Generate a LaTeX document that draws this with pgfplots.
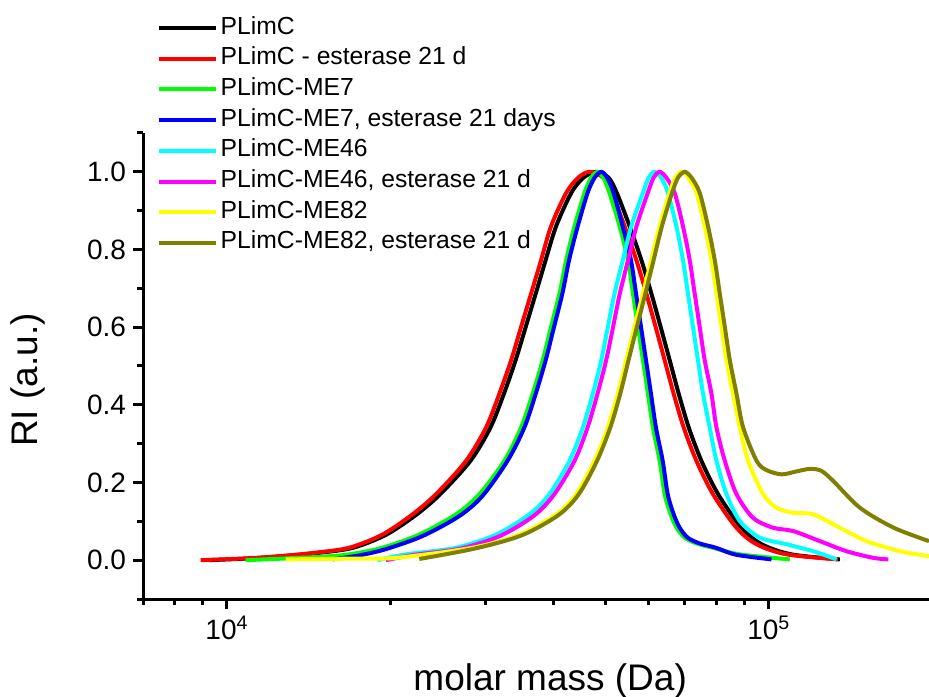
\documentclass[border=0pt]{standalone}
\usepackage{pgfplots}
\pgfplotsset{compat=1.18}
\usepackage{fontspec}
\setmainfont{Liberation Sans}
\definecolor{cRed}{RGB}{255,0,0}
\definecolor{cGreen}{RGB}{0,255,0}
\definecolor{cBlue}{RGB}{0,0,255}
\definecolor{cCyan}{RGB}{0,255,255}
\definecolor{cMag}{RGB}{255,0,255}
\definecolor{cYel}{RGB}{255,255,0}
\definecolor{cOlive}{RGB}{128,128,0}
\begin{document}
\begin{tikzpicture}
\begin{axis}[
  scale only axis, width=393bp, height=233bp,
  xmode=log, xmin=7000, xmax=197600, ymin=-0.1, ymax=1.1,
  axis x line*=bottom, axis y line*=left,
  axis line style={line width=1.5bp,-},
  tick style={black, line width=1.5bp},
  tick align=outside, major tick length=5bp, minor tick length=3bp,
  xtick={10000,100000}, xticklabels={10\textsuperscript{4},10\textsuperscript{5}},
  minor xtick={7000,8000,9000,20000,30000,40000,50000,60000,70000,80000,90000},
  ytick={0,0.2,0.4,0.6,0.8,1.0}, yticklabels={0.0,0.2,0.4,0.6,0.8,1.0},
  minor ytick={-0.1,0.1,0.3,0.5,0.7,0.9,1.1},
  tick label style={font=\fontsize{14bp}{16bp}\selectfont},
  label style={font=\fontsize{18.5bp}{22bp}\selectfont},
  xlabel={molar mass (Da)}, ylabel={RI (a.u.)},
  xlabel style={at={(axis description cs:0.518,0)}, anchor=center, yshift=-41bp},
  ylabel style={at={([xshift=-57.75bp]axis description cs:0,0.47)}, anchor=center},
  legend cell align=left,
  legend style={at={(axis description cs:0,1)}, anchor=north west, xshift=6.85bp, yshift=58.45bp,
    draw=none, fill=none, inner sep=0pt, outer sep=0pt, row sep=3.35bp, column sep=1.5bp,
    font=\fontsize{12.35bp}{14bp}\selectfont,
    nodes={inner sep=0pt, text height=9bp, text depth=3bp}},
  legend image code/.code={\draw[#1] (0bp,0bp) -- (28.5bp,0bp);},
  every axis plot/.append style={line width=2bp, smooth, tension=0.5},
]
\addplot[black] coordinates {
(9262,0.000) (11200,0.005) (12900,0.011) (14800,0.019) (17100,0.032) (19700,0.066)
(22400,0.118) (24750,0.170) (28150,0.256) (30650,0.342) (32450,0.429) (34100,0.515)
(35600,0.601) (37150,0.687) (38750,0.773) (40500,0.860) (43200,0.946) (45500,0.985)
(48030,1.000) (50600,0.985) (52400,0.946) (55350,0.860) (58180,0.773) (60700,0.687)
(63140,0.601) (65630,0.515) (68180,0.429) (71150,0.342) (75100,0.256) (80600,0.170)
(89040,0.0835) (97000,0.041) (110000,0.015) (135260,0.002)};
\addlegendentry{PLimC}
\addplot[cRed] coordinates {
(8941,0.000) (11000,0.005) (12655,0.011) (14500,0.019) (16810,0.032) (19370,0.066)
(22000,0.118) (24310,0.170) (27630,0.256) (30080,0.342) (31830,0.429) (33460,0.515)
(34910,0.601) (36430,0.687) (38010,0.773) (39650,0.860) (42280,0.946) (44500,0.985)
(46680,1.000) (49500,0.985) (51300,0.946) (54180,0.860) (56950,0.773) (59420,0.687)
(61810,0.601) (64240,0.515) (66740,0.429) (69650,0.342) (73520,0.256) (78900,0.170)
(87170,0.0835) (94920,0.041) (107830,0.015) (134110,0.002)};
\addlegendentry{PLimC - esterase 21 d}
\addplot[cGreen] coordinates {
(10830,0.000) (12655,0.004) (15000,0.009) (16810,0.015) (19340,0.032) (22640,0.066)
(26470,0.118) (29240,0.170) (32510,0.256) (34910,0.342) (36670,0.429) (38260,0.515)
(39650,0.601) (41090,0.687) (42280,0.773) (43800,0.860) (45700,0.946) (47000,0.985)
(48300,1.000) (49500,0.985) (50800,0.946) (53040,0.860) (54950,0.773) (56140,0.687)
(57340,0.601) (58580,0.515) (59830,0.429) (61110,0.342) (62880,0.256) (64240,0.170)
(65900,0.118) (67600,0.0835) (69940,0.058) (73600,0.043) (78840,0.032) (88400,0.015)
(109360,0.002)};
\addlegendentry{PLimC-ME7}
\addplot[cBlue] coordinates {
(15650,0.002) (17500,0.012) (19600,0.028) (22950,0.062) (26800,0.113) (29600,0.165)
(32950,0.256) (35400,0.342) (37150,0.429) (38750,0.515) (40150,0.601) (41600,0.687)
(42800,0.773) (44400,0.860) (46300,0.946) (47700,0.985) (49070,1.000) (50300,0.985)
(51700,0.946) (53730,0.860) (55660,0.773) (56870,0.687) (58090,0.601) (59340,0.515)
(60610,0.429) (61900,0.342) (63700,0.256) (65080,0.170) (66760,0.118) (68480,0.0835)
(70850,0.058) (74560,0.043) (79870,0.032) (87000,0.014) (101160,0.002)};
\addlegendentry{PLimC-ME7, esterase 21 days}
\addplot[cCyan] coordinates {
(18960,0.000) (21390,0.015) (26470,0.032) (31390,0.066) (36160,0.118) (39360,0.170)
(42880,0.256) (45370,0.342) (47340,0.429) (49070,0.515) (50470,0.601) (51920,0.687)
(53790,0.773) (55750,0.860) (58580,0.946) (60000,0.985) (61500,1.000) (63300,0.985)
(65150,0.946) (67510,0.860) (69440,0.773) (70930,0.687) (72460,0.601) (74020,0.515)
(75620,0.429) (77800,0.342) (80050,0.256) (83550,0.170) (88400,0.101) (96250,0.058)
(107830,0.041) (120770,0.023) (133370,0.002)};
\addlegendentry{PLimC-ME46}
\addplot[cMag] coordinates {
(19650,0.000) (22000,0.013) (27000,0.030) (32000,0.063) (36900,0.115) (40200,0.170)
(43800,0.256) (46300,0.342) (48300,0.429) (50100,0.515) (51600,0.601) (53100,0.687)
(55000,0.773) (57000,0.860) (59800,0.946) (61300,0.985) (62880,1.000) (64700,0.985)
(67020,0.946) (69440,0.860) (71450,0.773) (72980,0.687) (74560,0.601) (76160,0.515)
(78370,0.429) (80050,0.342) (82950,0.256) (87170,0.170) (93540,0.109) (101840,0.0835)
(110890,0.075) (124260,0.049) (139160,0.023) (155880,0.006) (166190,0.002)};
\addlegendentry{PLimC-ME46, esterase 21 d}
\addplot[cYel] coordinates {
(12838,0.002) (17000,0.004) (20500,0.006) (28380,0.032) (34650,0.066) (40510,0.118)
(44110,0.170) (47690,0.256) (50470,0.342) (52660,0.429) (54580,0.515) (56540,0.601)
(58580,0.687) (60700,0.773) (62880,0.860) (65610,0.946) (67200,0.985) (68960,1.000)
(71000,0.985) (73520,0.946) (76160,0.860) (78370,0.773) (80050,0.687) (81790,0.601)
(83550,0.515) (85910,0.429) (88400,0.342) (91580,0.256) (97610,0.170) (103320,0.135)
(110890,0.122) (120770,0.118) (135260,0.0835) (151570,0.049) (174670,0.023) (197600,0.010)};
\addlegendentry{PLimC-ME82}
\addplot[cOlive] coordinates {
(22640,0.003) (28700,0.030) (35000,0.064) (40900,0.116) (44600,0.170) (48200,0.256)
(51000,0.342) (53200,0.429) (55100,0.515) (57100,0.601) (59200,0.687) (61300,0.773)
(63500,0.860) (66300,0.946) (68000,0.985) (69940,1.000) (72000,0.985) (74560,0.946)
(77240,0.860) (79480,0.773) (81190,0.687) (82950,0.601) (84740,0.515) (87170,0.429)
(89660,0.342) (94920,0.256) (99000,0.232) (105560,0.221) (112000,0.228) (119090,0.235)
(125000,0.230) (131480,0.204) (147310,0.135) (169780,0.084) (197600,0.049)};
\addlegendentry{PLimC-ME82, esterase 21 d}
\end{axis}
\pgfresetboundingbox
\useasboundingbox ([shift={(-71.5bp,-49bp)}]current axis.south west) rectangle ([shift={(0bp,66.5bp)}]current axis.north east);
\end{tikzpicture}
\end{document}
